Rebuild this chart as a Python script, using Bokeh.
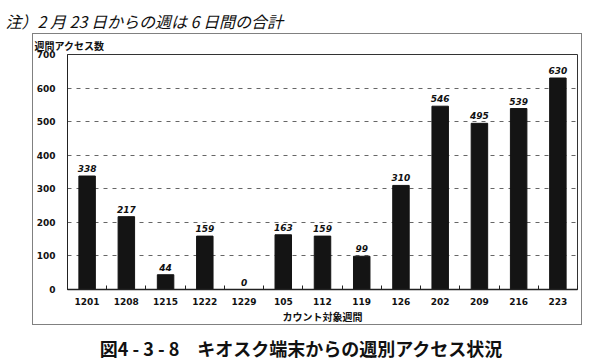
from bokeh.plotting import figure
from bokeh.layouts import column, row
from bokeh.models import Range1d, FixedTicker, Label, ColumnDataSource, Title, Spacer
from bokeh.embed import file_html
from bokeh.resources import INLINE
from bokeh.core.properties import value

# ---- data ----
weeks = ["1201", "1208", "1215", "1222", "1229", "105", "112", "119", "126",
         "202", "209", "216", "223"]
access = [338, 217, 44, 159, 0, 163, 159, 99, 310, 546, 495, 539, 630]
y_ticks = [0, 100, 200, 300, 400, 500, 600, 700]
note_text = "注）2 月 23 日からの週は 6 日間の合計"
y_title = "週間アクセス数"
x_title = "カウント対象週間"
caption = "図4 - 3 - 8　キオスク端末からの週別アクセス状況"

JP = "Noto Sans CJK JP"
NUM = "DejaVu Sans"
INK = "#111111"


def blank_fig(w, h):
    f = figure(width=w, height=h, output_backend="svg", toolbar_location=None,
               x_axis_type=None, y_axis_type=None, min_border=0)
    f.outline_line_color = None
    f.xgrid.grid_line_color = None
    f.ygrid.grid_line_color = None
    f.background_fill_color = "white"
    f.border_fill_color = "white"
    return f


# ---- top note ----
top = blank_fig(600, 33)
top.add_layout(Label(x=5, y=25, x_units="screen", y_units="screen", text=note_text,
                     text_font=JP, text_font_size="16px", text_font_style="italic",
                     text_baseline="top", text_color=INK))

# ---- main chart ----
xs = list(range(1, len(weeks) + 1))
src = ColumnDataSource(dict(x=xs, y=access, lab=[str(v) for v in access]))

p = figure(width=550, height=292, output_backend="svg", toolbar_location=None,
           x_range=Range1d(0.5, len(weeks) + 0.5), y_range=Range1d(0, 700),
           min_border_left=34, min_border_right=6, min_border_top=15,
           min_border_bottom=36)
p.styles = {"border": "1px solid #808080", "box-sizing": "border-box"}
p.background_fill_color = "white"
p.border_fill_color = "white"
p.outline_line_color = "#333333"
p.outline_line_width = 1

p.add_layout(Title(text=y_title, align="left", offset=-33, standoff=3,
                   text_line_height=0.7,
                   text_font=JP, text_font_size="10px", text_font_style="bold",
                   text_color=INK), "above")

p.vbar(x="x", top="y", width=0.42, source=src, fill_color="#141414",
       line_color="#141414")
p.text(x="x", y="y", text="lab", source=src, y_offset=-4,
       text_align="center", text_baseline="bottom",
       text_font=value(NUM), text_font_style="bold italic",
       text_font_size="9px", text_color=INK)

p.xaxis.ticker = FixedTicker(ticks=xs, minor_ticks=[i + 0.5 for i in range(0, len(weeks) + 1)])
p.xaxis.major_label_overrides = {i: w for i, w in zip(xs, weeks)}
p.xaxis.major_tick_line_color = None
p.xaxis.major_tick_in = 0
p.xaxis.major_tick_out = 0
p.xaxis.minor_tick_in = 4
p.xaxis.minor_tick_out = 0
p.xaxis.minor_tick_line_color = "#222222"
p.xaxis.axis_line_color = "#222222"
p.xaxis.axis_line_width = 1.5
p.xaxis.major_label_standoff = 8
p.xaxis.major_label_text_font = NUM
p.xaxis.major_label_text_font_style = "bold"
p.xaxis.major_label_text_font_size = "9px"
p.xaxis.major_label_text_color = INK
p.xaxis.axis_label = x_title
p.xaxis.axis_label_standoff = 1
p.xaxis.axis_label_text_font = JP
p.xaxis.axis_label_text_font_size = "10px"
p.xaxis.axis_label_text_font_style = "bold"
p.xaxis.axis_label_text_color = INK

p.yaxis.ticker = FixedTicker(ticks=y_ticks)
p.yaxis.major_tick_in = 0
p.yaxis.major_tick_out = 0
p.yaxis.minor_tick_line_color = None
p.yaxis.axis_line_color = "#222222"
p.yaxis.major_label_standoff = 12
p.yaxis.major_label_text_font = NUM
p.yaxis.major_label_text_font_style = "bold"
p.yaxis.major_label_text_font_size = "9px"
p.yaxis.major_label_text_color = INK

p.xgrid.grid_line_color = None
p.ygrid.ticker = FixedTicker(ticks=y_ticks[1:-1])
p.ygrid.grid_line_color = "#666666"
p.ygrid.grid_line_dash = "4 5"
p.ygrid.grid_line_width = 1

# ---- caption ----
cap = blank_fig(600, 36)
cap.add_layout(Label(x=301, y=14, x_units="screen", y_units="screen", text=caption,
                     text_font=JP, text_font_size="18px", text_font_style="bold",
                     text_align="center", text_baseline="middle", text_color=INK))

layout = column(top, row(Spacer(width=32, height=292), p, spacing=0), cap, spacing=0)
open("out.html", "w").write(file_html(layout, INLINE))
